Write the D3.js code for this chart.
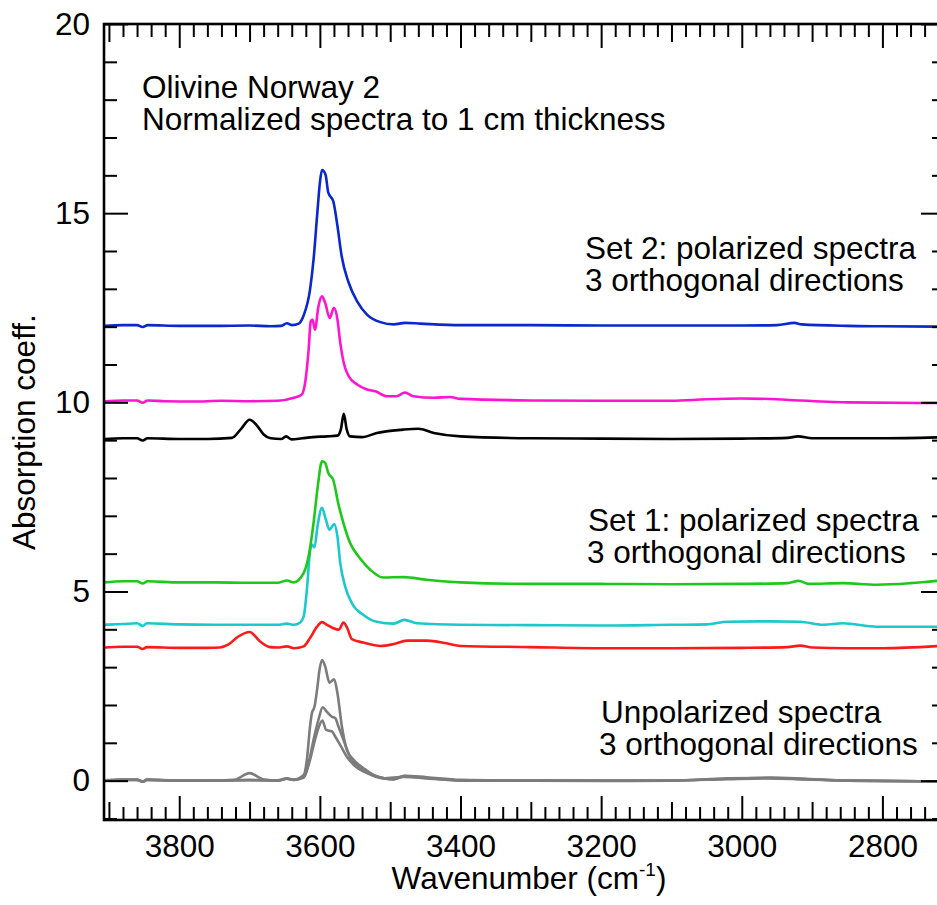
<!DOCTYPE html>
<html>
<head>
<meta charset="utf-8">
<script src="https://cdn.jsdelivr.net/npm/d3@7"></script>
<style>
	body { margin: 0; background: #fff; }
	svg text { font-family: 'Liberation Sans', Arial, Helvetica, sans-serif; fill: #000; }
</style>
</head>
<body>
<svg width="937" height="905"></svg>
<script>
// wavenumber (cm-1), absorption coeff.
const blue = [[3907,12.02],[3880,12.04],[3860,12.04],[3852,11.99],[3845,12.04],[3800,12.02],[3750,12.02],[3700,12.03],[3670,12.01],[3655,12.02],[3647,12.09],[3640,12.04],[3630,12.08],[3623,12.3],[3614,12.98],[3609,13.77],[3604,14.92],[3600,15.8],[3597,16.14],[3592,16.02],[3588,15.54],[3581,15.32],[3575,14.66],[3569,13.86],[3559,13.16],[3547,12.67],[3533,12.32],[3514,12.12],[3495,12.06],[3479,12.1],[3457,12.08],[3400,12.04],[3300,12.04],[3200,12.03],[3100,12.03],[3000,12.03],[2950,12.04],[2925,12.1],[2915,12.06],[2850,12.02],[2800,12.01],[2711,12.0]]
const magenta = [[3907,10.03],[3880,10.05],[3860,10.05],[3852,9.99],[3845,10.05],[3820,10.03],[3780,10.02],[3740,10.04],[3700,10.03],[3660,10.04],[3637,10.12],[3626,10.2],[3621,10.51],[3616,11.39],[3613,12.14],[3610.5,12.19],[3607,11.92],[3602,12.54],[3597,12.8],[3592.5,12.63],[3586,12.23],[3580,12.5],[3575,12.19],[3571,11.57],[3566,11.04],[3559,10.69],[3547,10.47],[3533,10.34],[3521,10.29],[3505,10.16],[3491,10.16],[3479,10.26],[3467,10.16],[3438,10.12],[3415,10.14],[3400,10.09],[3300,10.05],[3200,10.04],[3100,10.04],[3050,10.08],[3000,10.1],[2950,10.08],[2920,10.05],[2850,10.0],[2711,9.98]]
const black = [[3907,9.03],[3880,9.05],[3860,9.05],[3852,8.99],[3845,9.05],[3800,9.03],[3760,9.03],[3725,9.06],[3712,9.3],[3700,9.54],[3690,9.4],[3680,9.15],[3670,9.05],[3655,9.03],[3648,9.1],[3640,9.02],[3625,9.05],[3610,9.08],[3590,9.1],[3575,9.12],[3570,9.3],[3566,9.7],[3562,9.3],[3557,9.1],[3540,9.08],[3519,9.19],[3481,9.28],[3460,9.3],[3438,9.19],[3400,9.1],[3300,9.05],[3200,9.04],[3100,9.03],[3000,9.04],[2935,9.06],[2920,9.1],[2900,9.05],[2800,9.05],[2711,9.08]]
const green = [[3907,5.24],[3880,5.27],[3860,5.27],[3852,5.21],[3845,5.27],[3800,5.24],[3750,5.24],[3700,5.23],[3660,5.23],[3647,5.29],[3637,5.24],[3623,5.49],[3616,5.93],[3609,6.81],[3603,7.78],[3597,8.44],[3592.5,8.4],[3588,8.13],[3581,7.95],[3574,7.34],[3566.5,6.81],[3557,6.28],[3543,5.88],[3528,5.57],[3510,5.37],[3481,5.38],[3448,5.31],[3400,5.24],[3300,5.2],[3200,5.2],[3100,5.19],[3000,5.2],[2935,5.22],[2919,5.28],[2905,5.2],[2856,5.22],[2808,5.18],[2760,5.22],[2711,5.3]]
const cyan = [[3907,4.12],[3880,4.14],[3860,4.16],[3852,4.09],[3846,4.16],[3800,4.13],[3750,4.12],[3700,4.12],[3660,4.12],[3647,4.15],[3637,4.12],[3628,4.18],[3623,4.34],[3618.5,5.04],[3614,6.06],[3611.4,6.24],[3607.6,6.17],[3603.4,6.72],[3597,7.21],[3591.5,6.9],[3586.3,6.63],[3579.7,6.78],[3575,6.45],[3571,5.75],[3564,5.13],[3554.5,4.69],[3538,4.38],[3519,4.2],[3495,4.15],[3480,4.25],[3462,4.16],[3400,4.12],[3300,4.11],[3200,4.1],[3100,4.12],[3050,4.13],[3020,4.2],[2960,4.21],[2917,4.2],[2884,4.12],[2856,4.16],[2808,4.07],[2711,4.07]]
const red = [[3907,3.52],[3880,3.54],[3860,3.54],[3852,3.48],[3846,3.53],[3800,3.51],[3760,3.51],[3742,3.52],[3730,3.6],[3716,3.81],[3700,3.93],[3685,3.68],[3671,3.53],[3660,3.52],[3647,3.55],[3637,3.5],[3623,3.55],[3614,3.77],[3604,4.07],[3597,4.19],[3590,4.12],[3581,4.03],[3573,3.99],[3566.5,4.18],[3561,4.03],[3554.5,3.74],[3538,3.65],[3514,3.56],[3495,3.61],[3476,3.7],[3448,3.7],[3420,3.63],[3400,3.56],[3300,3.53],[3200,3.5],[3100,3.5],[3000,3.51],[2935,3.53],[2917,3.57],[2900,3.52],[2850,3.5],[2800,3.5],[2711,3.57]]
const gray1 = [[3907,0.01],[3880,0.03],[3860,0.03],[3852,-0.02],[3846,0.03],[3800,0.0],[3750,0.0],[3700,0.02],[3660,0.01],[3647,0.06],[3637,0.03],[3623,0.15],[3618.5,0.55],[3614,1.43],[3611.4,1.78],[3607.6,1.96],[3604,2.4],[3600.5,2.93],[3597,3.19],[3592.5,3.02],[3586.3,2.59],[3579.7,2.68],[3575,2.31],[3568.7,1.43],[3561.6,0.81],[3552,0.55],[3538,0.33],[3519,0.11],[3495,0.04],[3480,0.13],[3448,0.09],[3400,0.02],[3300,0.0],[3200,-0.01],[3100,0.0],[3020,0.05],[2960,0.08],[2910,0.05],[2850,0.0],[2711,-0.02]]
const gray2 = [[3907,0.0],[3880,0.02],[3860,0.02],[3852,-0.03],[3846,0.02],[3800,0.0],[3750,0.0],[3722,0.02],[3700,0.2],[3680,0.03],[3660,0.0],[3647,0.05],[3637,0.02],[3623,0.1],[3618.5,0.3],[3614,0.63],[3609,1.08],[3602,1.61],[3596,1.94],[3590.5,1.83],[3583,1.69],[3578,1.65],[3573.6,1.43],[3566.5,1.08],[3557,0.63],[3543,0.33],[3524,0.15],[3495,0.03],[3480,0.12],[3448,0.07],[3400,0.01],[3300,0.0],[3200,0.0],[3100,0.0],[3020,0.06],[2960,0.07],[2910,0.04],[2850,0.0],[2711,-0.02]]
const gray3 = [[3907,0.0],[3880,0.02],[3860,0.02],[3852,-0.03],[3846,0.02],[3800,0.0],[3750,0.0],[3700,0.01],[3660,0.0],[3647,0.05],[3637,0.02],[3623,0.08],[3614,0.55],[3607,1.08],[3602,1.39],[3596.5,1.59],[3591,1.34],[3583,1.3],[3578,1.16],[3571,0.94],[3561.6,0.63],[3552,0.42],[3533,0.2],[3510,0.06],[3480,0.1],[3448,0.06],[3400,0.0],[3300,0.0],[3200,0.0],[3100,0.0],[3020,0.04],[2960,0.06],[2910,0.03],[2850,0.0],[2711,-0.02]]

const seriesData = [gray3, gray2, gray1, red, cyan, green, black, magenta, blue]
const seriesColors = ['#7c7c7c', '#7c7c7c', '#7c7c7c', '#ff1a1a', '#1cc8cc', '#1ec81a', '#000000', '#ff14d2', '#0a28cc']

const majorX = [3800, 3600, 3400, 3200, 3000, 2800]
const mediumX = [3900, 3700, 3500, 3300, 3100, 2900]
const minorX = d3.range(3880, 2710, -20).filter(v => v % 100 !== 0)
const majorY = [0, 5, 10, 15, 20]
const minorY = d3.range(-1, 20, 1).filter(v => v % 5 !== 0)

const notes = [
	{ x: 142, y: 98, lines: ['Olivine Norway 2', 'Normalized spectra to 1 cm thickness'] },
	{ x: 585, y: 259, lines: ['Set 2: polarized spectra', '3 orthogonal directions'] },
	{ x: 588, y: 531, lines: ['Set 1: polarized spectra', '3 orthogonal directions'], dx2: -1 },
	{ x: 601, y: 723, lines: ['Unpolarized spectra', '3 orthogonal directions'], dx2: -2 }
]

const plotL = 104, plotR = 945, plotT = 24, plotB = 820
const fontSize = 31.5

const x = d3.scaleLinear().domain([3907, 2711]).range([plotL, plotR])
const y = d3.scaleLinear().domain([-1.04, 20]).range([plotB, plotT])

const svg = d3.select('svg')

svg.append('defs').append('clipPath').attr('id', 'plot')
	.append('rect')
	.attr('x', plotL).attr('y', plotT)
	.attr('width', plotR - plotL).attr('height', plotB - plotT)

const line = d3.line()
	.x(d => x(d[0]))
	.y(d => y(d[1]))
	.curve(d3.curveMonotoneX)

svg.append('g')
	.attr('clip-path', 'url(#plot)')
	.selectAll('path')
	.data(seriesData)
	.enter()
	.append('path')
	.attr('d', line)
	.attr('fill', 'none')
	.attr('stroke', (d, i) => seriesColors[i])
	.attr('stroke-width', 2.6)
	.attr('stroke-linejoin', 'round')

// axes: ticks point inward on all four sides
function tickAxis(axis, values, size, labels) {
	return axis
		.tickValues(values)
		.tickSize(-size)
		.tickSizeOuter(0)
		.tickFormat(labels ? d3.format('d') : '')
}

function drawAxis(g) {
	g.select('.domain').remove()
	g.selectAll('line').attr('stroke', '#000').attr('stroke-width', 2)
	g.selectAll('text').style('font-size', fontSize + 'px').attr('fill', '#000')
}

const xSets = [[majorX, 24, true], [mediumX, 18, false], [minorX, 13, false]]
xSets.forEach(s => {
	svg.append('g')
		.attr('transform', 'translate(0,' + plotB + ')')
		.call(tickAxis(d3.axisBottom(x), s[0], s[1], s[2]).tickPadding(15))
		.call(drawAxis)
	svg.append('g')
		.attr('transform', 'translate(0,' + plotT + ')')
		.call(tickAxis(d3.axisTop(x), s[0], s[1], false))
		.call(drawAxis)
})

const ySets = [[majorY, 24, true], [minorY, 13, false]]
ySets.forEach(s => {
	svg.append('g')
		.attr('transform', 'translate(' + plotL + ',0)')
		.call(tickAxis(d3.axisLeft(y), s[0], s[1], s[2]).tickPadding(14))
		.call(drawAxis)
	svg.append('g')
		.attr('transform', 'translate(' + plotR + ',0)')
		.call(tickAxis(d3.axisRight(y), s[0], s[1], false))
		.call(drawAxis)
})

svg.append('rect')
	.attr('x', plotL).attr('y', plotT)
	.attr('width', plotR - plotL).attr('height', plotB - plotT)
	.attr('fill', 'none')
	.attr('stroke', '#000')
	.attr('stroke-width', 2.6)

// axis titles
const xTitle = svg.append('text')
	.attr('x', 529)
	.attr('y', 889)
	.attr('text-anchor', 'middle')
	.style('font-size', fontSize + 'px')
xTitle.append('tspan').text('Wavenumber (cm')
xTitle.append('tspan').attr('dy', -13).style('font-size', '19px').text('-1')
xTitle.append('tspan').attr('dy', 13).text(')')

svg.append('text')
	.attr('transform', 'translate(35,550) rotate(-90)')
	.attr('text-anchor', 'start')
	.style('font-size', fontSize + 'px')
	.text('Absorption coeff.')

// two-line annotations, one text element each
const noteText = svg.selectAll('.note')
	.data(notes)
	.enter()
	.append('text')
	.attr('class', 'note')
	.attr('y', d => d.y)
	.style('font-size', fontSize + 'px')

noteText.append('tspan')
	.attr('x', d => d.x)
	.text(d => d.lines[0])
noteText.append('tspan')
	.attr('x', d => d.x + (d.dx2 || 0))
	.attr('dy', 32)
	.text(d => d.lines[1])
</script>
</body>
</html>
